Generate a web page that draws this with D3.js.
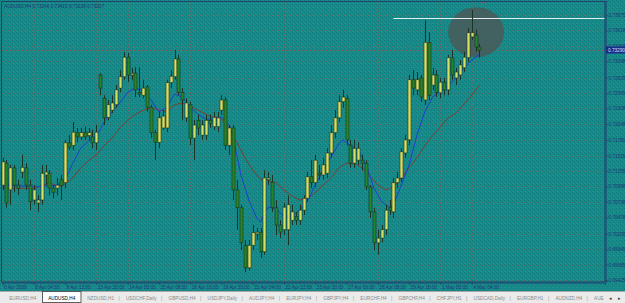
<!DOCTYPE html>
<html>
<head>
<meta charset="utf-8">
<title>AUDUSD,H4</title>
<script src="https://d3js.org/d3.v7.min.js"></script>
<style>
  body { margin: 0; background: #178a8a; overflow: hidden; }
  svg { display: block; }
  text { font-family: "Liberation Sans", Arial, sans-serif; }
</style>
</head>
<body>
<div id="chart"></div>
<script>
const W = 625, H = 303;

// AUDUSD H4 candles (one entry per bar)
const opens = [
  .7102,.7139,.7094,.7131,.7102,.7124,.7131,.7102,.7077,.7072,
  .7077,.7119,.7122,.7097,.7097,.7111,.7106,.7173,.7169,.7190,
  .7183,.7191,.7185,.7183,.7173,.7287,.7248,.7216,.7228,.7237,
  .7265,.7284,.7317,.7287,.7290,.7258,.7253,.7267,.7233,.7190,
  .7174,.7198,.7198,.7274,.7284,.7314,.7258,.7215,.7237,.7181,
  .7211,.7186,.7186,.7211,.7200,.7200,.7228,.7245,.7169,.7198,
  .7094,.7064,.7001,.6963,.7001,.7020,.7023,.6990,.7111,.7107,
  .7064,.7035,.7027,.7027,.7043,.7049,.7043,.7060,.7080,.7116,
  .7106,.7122,.7119,.7122,.7156,.7190,.7215,.7242,.7248,.7169,
  .7139,.7144,.7144,.7139,.7099,.7057,.7005,.7013,.7027,.7065,
  .7057,.7106,.7114,.7156,.7178,.7279,.7262,.7282,.7245,.7342,
  .7270,.7287,.7257,.7275,.7262,.7316,.7282,.7287,.7299,.7316,
  .7351,.7354,.7334
];
const highs = [
  .7148,.7144,.7136,.7136,.7111,.7153,.7139,.7111,.7102,.7085,
  .7136,.7136,.7127,.7102,.7114,.7119,.7178,.7186,.7208,.7198,
  .7198,.7200,.7198,.7195,.7203,.7290,.7253,.7245,.7253,.7270,
  .7295,.7326,.7324,.7299,.7300,.7300,.7279,.7270,.7237,.7195,
  .7225,.7228,.7279,.7295,.7329,.7321,.7265,.7248,.7242,.7211,
  .7220,.7211,.7220,.7220,.7225,.7225,.7253,.7250,.7203,.7203,
  .7111,.7069,.7010,.7010,.7035,.7030,.7030,.7127,.7124,.7119,
  .7077,.7043,.7072,.7085,.7069,.7057,.7069,.7085,.7124,.7144,
  .7153,.7136,.7148,.7164,.7203,.7228,.7253,.7262,.7253,.7178,
  .7178,.7174,.7153,.7144,.7102,.7064,.7027,.7035,.7069,.7077,
  .7114,.7124,.7164,.7186,.7287,.7295,.7292,.7287,.7379,.7359,
  .7299,.7295,.7282,.7282,.7321,.7329,.7299,.7312,.7326,.7366,
  .7396,.7363,.7339
];
const lows = [
  .7094,.7064,.7069,.7090,.7085,.7114,.7094,.7060,.7069,.7057,
  .7069,.7102,.7085,.7080,.7085,.7077,.7097,.7161,.7161,.7174,
  .7178,.7178,.7178,.7164,.7161,.7253,.7203,.7211,.7223,.7232,
  .7258,.7279,.7275,.7279,.7250,.7250,.7248,.7225,.7181,.7144,
  .7164,.7195,.7191,.7265,.7279,.7253,.7211,.7208,.7169,.7144,
  .7186,.7178,.7178,.7198,.7195,.7191,.7220,.7161,.7153,.7077,
  .7027,.6993,.6956,.6959,.6993,.7010,.6980,.6985,.7102,.7057,
  .7018,.7013,.7018,.7001,.7035,.7035,.7035,.7052,.7074,.7097,
  .7099,.7111,.7111,.7114,.7148,.7181,.7208,.7232,.7169,.7131,
  .7131,.7136,.7127,.7094,.7047,.6993,.6985,.7006,.7018,.7052,
  .7047,.7097,.7107,.7148,.7169,.7253,.7253,.7242,.7237,.7245,
  .7262,.7250,.7248,.7253,.7253,.7279,.7270,.7279,.7292,.7309,
  .7346,.7326,.7316
];
const closes = [
  .7141,.7072,.7131,.7102,.7097,.7132,.7102,.7074,.7094,.7077,
  .7122,.7124,.7097,.7090,.7102,.7101,.7173,.7166,.7191,.7183,
  .7190,.7183,.7190,.7173,.7191,.7265,.7215,.7237,.7240,.7262,
  .7284,.7317,.7287,.7290,.7262,.7255,.7265,.7233,.7190,.7174,
  .7215,.7218,.7274,.7285,.7314,.7258,.7245,.7240,.7181,.7203,
  .7198,.7203,.7211,.7206,.7216,.7215,.7245,.7169,.7198,.7094,
  .7064,.7005,.6963,.7001,.7022,.7023,.6990,.7114,.7114,.7064,
  .7035,.7023,.7065,.7069,.7057,.7043,.7060,.7080,.7116,.7106,
  .7144,.7119,.7136,.7156,.7190,.7215,.7242,.7250,.7178,.7139,
  .7164,.7164,.7139,.7099,.7057,.7005,.7013,.7027,.7060,.7060,
  .7106,.7114,.7158,.7178,.7279,.7265,.7279,.7250,.7342,.7253,
  .7287,.7258,.7275,.7262,.7316,.7287,.7292,.7304,.7317,.7358,
  .7358,.7334,.7329
];

// moving averages (bar index -> value)
const fastIdx = [0,4,8,12,14,16,18,20,22,24,26,28,30,32,34,36,38,40,42,44,46,48,50,52,54,56,58,59,61,63,65,66,67,68,70,72,74,76,78,80,82,84,86,87,89,91,93,95,97,99,100,102,104,106,108,110,112,114,116,118,120,122];
const fastVal = [.7101,.7101,.7099,.7101,.7101,.7111,.7139,.7164,.7176,.7183,.7208,.7225,.7240,.7258,.7265,.7260,.7245,.7225,.7233,.7255,.7250,.7233,.7221,.7213,.7213,.7216,.7203,.7181,.7119,.7077,.7047,.7040,.7055,.7065,.7062,.7049,.7050,.7060,.7075,.7102,.7127,.7149,.7171,.7178,.7169,.7159,.7136,.7097,.7074,.7064,.7069,.7102,.7136,.7186,.7225,.7250,.7260,.7269,.7282,.7299,.7312,.7321];
const slowIdx = [0,4,8,12,14,16,18,20,22,24,26,28,30,32,34,36,38,40,42,44,46,48,50,52,54,56,58,60,62,64,66,68,70,72,74,76,78,80,82,84,86,88,90,92,94,96,98,100,102,104,106,108,110,112,114,116,118,120,122];
const slowVal = [.7097,.7097,.7096,.7106,.7101,.7104,.7114,.7131,.7143,.7153,.7168,.7181,.7198,.7211,.7221,.7228,.7232,.7228,.7226,.7237,.7240,.7235,.7228,.7221,.7216,.7213,.7198,.7173,.7148,.7127,.7112,.7109,.7106,.7094,.7084,.7077,.7080,.7089,.7102,.7114,.7131,.7139,.7138,.7131,.7117,.7102,.7094,.7099,.7114,.7131,.7148,.7168,.7185,.7200,.7215,.7223,.7238,.7253,.7270];

const priceTicks = [0.73875,0.73618,0.73358,0.73098,0.72825,0.72565,0.72308,0.72048,0.71780,0.71515,0.71255,0.70998,0.70738,0.70478,0.70205,0.69945,0.69685,0.69425];
const timeIdx = [0,8,16,24,32,40,48,56,64,72,80,88,96,104,112,120];
const timeLabels = ["6 Apr 2009","8 Apr 04:00","9 Apr 12:00","10 Apr 20:00","14 Apr 00:00","15 Apr 08:00","16 Apr 16:00","19 Apr 20:00","21 Apr 04:00","22 Apr 12:00","23 Apr 20:00","27 Apr 00:00","28 Apr 08:00","29 Apr 16:00","1 May 00:00","4 May 04:00"];
const tabs = ["EURUSD,H4","AUDUSD,H4","NZDUSD,H1","USDCHF,Daily","GBPUSD,H4","USDJPY,Daily","AUDJPY,H4","EURJPY,H4","GBPJPY,H4","EURCHF,H4","GBPCHF,H4","CHFJPY,H1","USDCAD,Daily","EURGBP,H1","AUDNZD,H4","AUE"];
const activeTab = "AUDUSD,H4";
const header = "AUDUSD,H4  0.73246 0.73415 0.73138 0.73207";
const resistance = 0.7383, resistanceFrom = 100;
const circleBars = [114, 128.3], circlePrices = [0.7401, 0.7317];

const pL = 2, pR = 605, pT = 2, pB = 282;
const x = d3.scaleLinear().domain([0, 154.1]).range([2.5, pR]);
const y = d3.scaleLinear().domain([0.694092, 0.741132]).range([281, 1]);

const svg = d3.select("#chart").append("svg").attr("width", W).attr("height", H);
const defs = svg.append("defs");
const pat = defs.append("pattern").attr("id", "speck")
  .attr("width", 4).attr("height", 4).attr("patternUnits", "userSpaceOnUse");
pat.append("rect").attr("x", 0).attr("y", 0).attr("width", 1).attr("height", 1).attr("fill", "#0a6464");
pat.append("rect").attr("x", 2).attr("y", 2).attr("width", 1).attr("height", 1).attr("fill", "#0a6464");
pat.append("rect").attr("x", 1).attr("y", 3).attr("width", 1).attr("height", 1).attr("fill", "#3aa0a0");
defs.append("clipPath").attr("id", "tabclip").append("rect")
  .attr("x", 0).attr("y", 291).attr("width", 605).attr("height", 12);

svg.append("rect").attr("width", W).attr("height", 291).attr("fill", "#178a8a");
svg.append("rect").attr("width", W).attr("height", 291).attr("fill", "url(#speck)").attr("opacity", 0.45);

// grid
const grid = svg.append("g").attr("stroke", "#5f6b60").attr("stroke-dasharray", "1,2").attr("stroke-width", 1);
grid.selectAll(".gy").data(priceTicks).join("line")
  .attr("x1", pL).attr("x2", pR)
  .attr("y1", d => Math.round(y(d)) + 0.5).attr("y2", d => Math.round(y(d)) + 0.5);
grid.selectAll(".gx").data(timeIdx).join("line")
  .attr("y1", pT).attr("y2", pB)
  .attr("x1", d => Math.round(x(d)) + 0.5).attr("x2", d => Math.round(x(d)) + 0.5);

// bid line
const bid = closes[closes.length - 1];
svg.append("line").attr("x1", pL).attr("x2", pR)
  .attr("y1", Math.round(y(bid)) + 0.5).attr("y2", Math.round(y(bid)) + 0.5)
  .attr("stroke", "#8a5048").attr("stroke-dasharray", "2,2");

// highlight ellipse
svg.append("ellipse")
  .attr("cx", (x(circleBars[0]) + x(circleBars[1])) / 2)
  .attr("cy", (y(circlePrices[0]) + y(circlePrices[1])) / 2)
  .attr("rx", (x(circleBars[1]) - x(circleBars[0])) / 2)
  .attr("ry", (y(circlePrices[1]) - y(circlePrices[0])) / 2)
  .attr("fill", "#4e5656").attr("opacity", 0.8);

// resistance line
svg.append("line").attr("x1", x(resistanceFrom)).attr("x2", pR)
  .attr("y1", Math.round(y(resistance)) + 0.5).attr("y2", Math.round(y(resistance)) + 0.5)
  .attr("stroke", "#e6ecec").attr("stroke-width", 1);

// moving averages
const maLine = d3.line().x(d => x(d[0])).y(d => y(d[1]));
svg.append("path").datum(slowIdx.map((d, i) => [d, slowVal[i]]))
  .attr("d", maLine).attr("fill", "none").attr("stroke", "#7b3f33").attr("stroke-width", 1);
svg.append("path").datum(fastIdx.map((d, i) => [d, fastVal[i]]))
  .attr("d", maLine).attr("fill", "none").attr("stroke", "#1f3fd0").attr("stroke-width", 1);

// candles
const bars = opens.map((o, i) => ({ i, o, h: highs[i], l: lows[i], c: closes[i] }));
const cg = svg.append("g");
cg.selectAll(".wick").data(bars).join("line")
  .attr("x1", d => Math.round(x(d.i)) + 0.5).attr("x2", d => Math.round(x(d.i)) + 0.5)
  .attr("y1", d => y(d.h)).attr("y2", d => y(d.l))
  .attr("stroke", "#1b3524").attr("stroke-width", 1);
cg.selectAll(".body").data(bars).join("rect")
  .attr("x", d => Math.round(x(d.i)) - 1)
  .attr("y", d => y(Math.max(d.o, d.c)))
  .attr("width", 3)
  .attr("height", d => Math.max(1, Math.abs(y(d.o) - y(d.c))))
  .attr("fill", d => d.c >= d.o ? "#d7df62" : "#24862c")
  .attr("stroke", "#1b3524").attr("stroke-width", 0.6);

// frame
svg.append("rect").attr("x", 1.5).attr("y", 1.5).attr("width", pR - 1.5).attr("height", pB - 1.5)
  .attr("fill", "none").attr("stroke", "#1e4470");

// price axis
const yAxis = svg.append("g").attr("transform", `translate(${pR + 0.5},0)`)
  .call(d3.axisRight(y).tickValues(priceTicks).tickSize(2).tickFormat(d3.format(".5f")));
yAxis.select(".domain").attr("stroke", "#1e4470");
yAxis.selectAll(".tick line").attr("stroke", "#1e4470");
yAxis.selectAll("text").attr("fill", "#22357a").attr("font-size", 4.7).attr("x", 3)
  .attr("font-family", "Liberation Sans, Arial, sans-serif");

// bid label
svg.append("rect").attr("x", pR + 1).attr("y", y(bid) - 3.5).attr("width", 19).attr("height", 7).attr("fill", "#1a2c8a");
svg.append("text").attr("x", pR + 3).attr("y", y(bid) + 1.7).attr("font-size", 4.7).attr("fill", "#d8e0ff")
  .text(d3.format(".5f")(bid));

// time axis
const xAxis = svg.append("g").attr("transform", `translate(0,${pB + 0.5})`)
  .call(d3.axisBottom(x).tickValues(timeIdx).tickSize(2).tickFormat((d, i) => timeLabels[i]));
xAxis.select(".domain").attr("stroke", "#1e4470");
xAxis.selectAll(".tick line").attr("stroke", "#1e4470");
xAxis.selectAll("text").attr("fill", "#22357a").attr("font-size", 4.7)
  .attr("text-anchor", "start").attr("x", 1).attr("y", 3)
  .attr("font-family", "Liberation Sans, Arial, sans-serif");

// chart header
svg.append("text").attr("x", 4).attr("y", 8).attr("font-size", 4.7).attr("fill", "#22357a").text(header);

// chart shift marker
svg.append("path").attr("d", `M${x(123) - 2},2 L${x(123) + 2},2 L${x(123)},4 Z`).attr("fill", "#a05050");

// tab strip
svg.append("rect").attr("x", 0).attr("y", 291).attr("width", W).attr("height", 12).attr("fill", "#ebebeb");
svg.append("line").attr("x1", 0).attr("x2", W).attr("y1", 291.5).attr("y2", 291.5).attr("stroke", "#a8a8a8");
const tg = svg.append("g").attr("clip-path", "url(#tabclip)");
let tx = 4;
tabs.forEach((t, k) => {
  const txt = tg.append("text").attr("y", 299.5).attr("font-size", 4.7)
    .attr("fill", t === activeTab ? "#000" : "#8a8a8a").text(t);
  const w = txt.node().getComputedTextLength();
  const pad = 5.2;
  if (t === activeTab) {
    tg.insert("rect", "text").attr("x", tx - 0.5).attr("y", 291.5).attr("width", w + 2 * pad + 1).attr("height", 11)
      .attr("fill", "#ffffff").attr("stroke", "#3a3a3a").attr("stroke-width", 0.8);
  }
  txt.attr("x", tx + pad);
  tx += w + 2 * pad;
  const next = tabs[k + 1];
  if (next && next !== activeTab && t !== activeTab) {
    tg.append("text").attr("x", tx - 0.8).attr("y", 299.5).attr("font-size", 5).attr("fill", "#9a9a9a").text("|");
  }
  tx += 1.5;
});
svg.append("text").attr("x", 609).attr("y", 299.5).attr("font-size", 4.5).attr("fill", "#333").text("◂");
svg.append("text").attr("x", 618).attr("y", 299.5).attr("font-size", 4.5).attr("fill", "#333").text("▸");
</script>
</body>
</html>
